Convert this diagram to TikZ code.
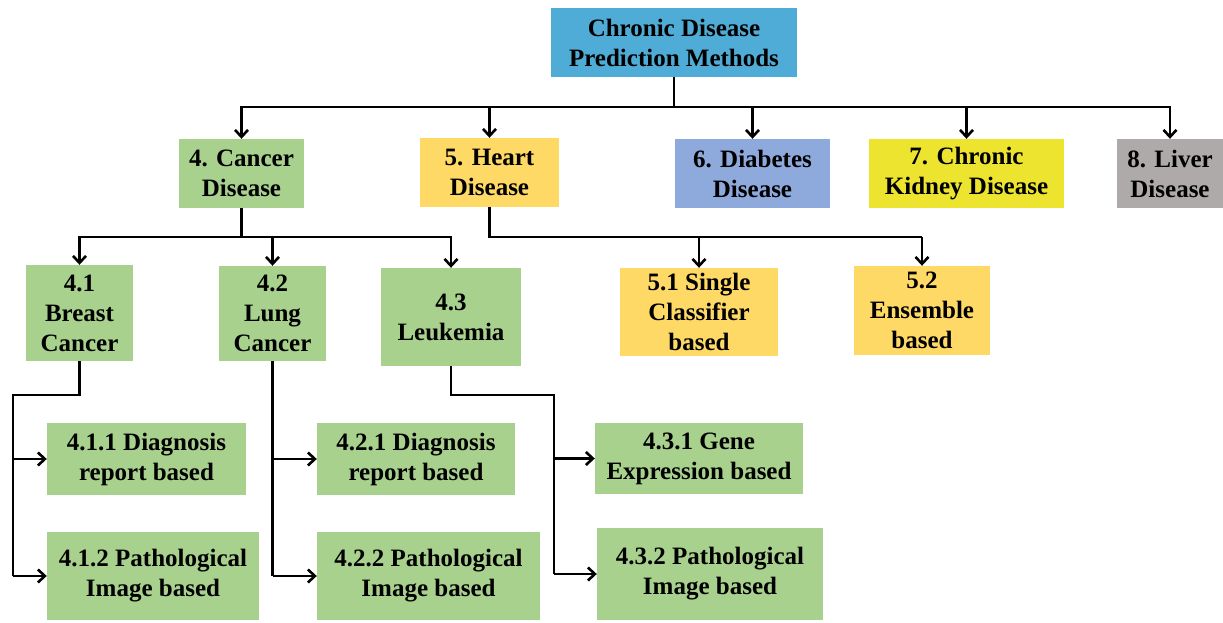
\documentclass[tikz,border=0pt]{standalone}
\usepackage{fontspec}
\setmainfont{Liberation Serif}
\usetikzlibrary{arrows.meta}
\definecolor{rootblue}{RGB}{79,172,214}
\definecolor{leafgreen}{RGB}{169,209,142}
\definecolor{heartgold}{RGB}{255,217,102}
\definecolor{diabblue}{RGB}{142,169,219}
\definecolor{kidneyyellow}{RGB}{236,228,46}
\definecolor{livergrey}{RGB}{174,170,170}
\tikzstyle{box}=[align=center, inner sep=0pt, font=\fontsize{25}{30}\selectfont\bfseries]
\tikzstyle{wire}=[line width=2.6pt]
\tikzstyle{arrow}=[wire, -{Straight Barb[length=7pt,width=13pt]}]

\begin{document}
\begin{tikzpicture}[x=1pt, y=-1pt]
\useasboundingbox (0,0) rectangle (1223,623);
% Root
    \node[box, fill=rootblue, minimum width=246, minimum height=69] (root) at (674,42.5) {Chronic Disease\\Prediction Methods};
% Diseases
    \node[box, fill=leafgreen, minimum width=125, minimum height=69] (cancer) at (241.5,173.5) {4. Cancer\\Disease};
    \node[box, fill=heartgold, minimum width=139, minimum height=69] (heart) at (489.5,172.5) {5. Heart\\Disease};
    \node[box, fill=diabblue, minimum width=155, minimum height=69] (diabetes) at (752.5,173.5) {6. Diabetes\\Disease};
    \node[box, fill=kidneyyellow, minimum width=195, minimum height=69] (kidney) at (966.5,173.5) {7. Chronic\\Kidney Disease};
    \node[box, fill=livergrey, minimum width=106, minimum height=69] (liver) at (1170,173.5) {8. Liver\\Disease};
% Cancer types and heart methods
    \node[box, fill=leafgreen, minimum width=107, minimum height=96] (breast) at (79.5,313) {4.1\\Breast\\Cancer};
    \node[box, fill=leafgreen, minimum width=107, minimum height=95] (lung) at (272.5,313.5) {4.2\\Lung\\Cancer};
    \node[box, fill=leafgreen, minimum width=140, minimum height=98] (leuk) at (451,317) {4.3\\Leukemia};
    \node[box, fill=heartgold, minimum width=158, minimum height=88] (single) at (699,312) {5.1 Single\\Classifier\\based};
    \node[box, fill=heartgold, minimum width=136, minimum height=89] (ensemble) at (922,310.5) {5.2\\Ensemble\\based};
% Cancer methods
    \node[box, fill=leafgreen, minimum width=199, minimum height=72] (breastdiag) at (146.5,459) {4.1.1 Diagnosis\\report based};
    \node[box, fill=leafgreen, minimum width=212, minimum height=88] (breastimg) at (153,576) {4.1.2 Pathological\\Image based};
    \node[box, fill=leafgreen, minimum width=198, minimum height=72] (lungdiag) at (416,459) {4.2.1 Diagnosis\\report based};
    \node[box, fill=leafgreen, minimum width=223, minimum height=88] (lungimg) at (428.5,576) {4.2.2 Pathological\\Image based};
    \node[box, fill=leafgreen, minimum width=208, minimum height=71] (leukgene) at (699,458.5) {4.3.1 Gene\\Expression based};
    \node[box, fill=leafgreen, minimum width=226, minimum height=92] (leukimg) at (710,574) {4.3.2 Pathological\\Image based};
% Top bus
    \coordinate (top) at (674,107);
    \draw[wire] (root.south) -- (top);
    \draw[wire, line cap=rect] (cancer |- top) -- (liver |- top);
    \draw[arrow] (cancer |- top) -- (cancer.north);
    \draw[arrow] (heart |- top) -- (heart.north);
    \draw[arrow] (diabetes |- top) -- (diabetes.north);
    \draw[arrow] (kidney |- top) -- (kidney.north);
    \draw[arrow] (liver |- top) -- (liver.north);
% Cancer bus
    \coordinate (csplit) at (241.5,237);
    \draw[wire] (cancer.south) -- (csplit);
    \draw[wire, line cap=rect] (breast |- csplit) -- (leuk |- csplit);
    \draw[arrow] (breast |- csplit) -- (breast.north);
    \draw[arrow] (lung |- csplit) -- (lung.north);
    \draw[arrow] (leuk |- csplit) -- (leuk.north);
% Heart bus
    \coordinate (hsplit) at (489.5,237);
    \draw[wire] (heart.south) |- (ensemble |- hsplit);
    \draw[arrow] (single |- hsplit) -- (single.north);
    \draw[arrow] (ensemble |- hsplit) -- (ensemble.north);
% Breast branch
    \coordinate (btrunk) at (13,395);
    \draw[wire] (breast.south) |- (btrunk) -- (btrunk |- breastimg.west);
    \draw[arrow] (btrunk |- breastdiag.west) -- (breastdiag.west);
    \draw[arrow] (btrunk |- breastimg.west) -- (breastimg.west);
% Lung branch
    \draw[wire] (lung.south) -- (lung.south |- lungimg.west);
    \draw[arrow] (lung.south |- lungdiag.west) -- (lungdiag.west);
    \draw[arrow] (lung.south |- lungimg.west) -- (lungimg.west);
% Leukemia branch
    \coordinate (ltrunk) at (554,395);
    \draw[wire] (leuk.south) |- (ltrunk) -- (ltrunk |- leukimg.west);
    \draw[arrow] (ltrunk |- leukgene.west) -- (leukgene.west);
    \draw[arrow] (ltrunk |- leukimg.west) -- (leukimg.west);
\end{tikzpicture}
\end{document}
